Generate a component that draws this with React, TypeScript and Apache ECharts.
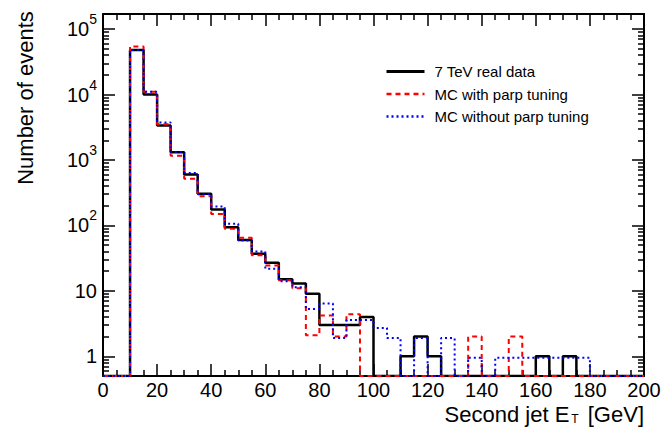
import { useEffect, useRef } from 'react';
import * as echarts from 'echarts';

// Histogram bins: low edges (GeV), width 5 GeV
const BIN_LOW = [
  0, 5, 10, 15, 20, 25, 30, 35, 40, 45,
  50, 55, 60, 65, 70, 75, 80, 85, 90, 95,
  100, 105, 110, 115, 120, 125, 130, 135, 140, 145,
  150, 155, 160, 165, 170, 175, 180, 185, 190, 195,
];
const BIN_WIDTH = 5;

const DATA_7TEV = [
  0, 0, 48000, 10000, 3360, 1316, 600, 304, 175, 94,
  60, 37, 27, 15, 13, 9, 3, 3, 3, 4,
  0, 0, 1, 2, 1, 0, 0, 0, 0, 0,
  0, 0, 1, 0, 1, 0, 0, 0, 0, 0,
];
const MC_PARP = [
  0, 0, 54400, 11000, 3500, 1160, 517, 280, 150, 89,
  65, 35, 24.5, 14.5, 11, 2.1, 4.2, 2, 4.4, 0,
  0, 0, 0, 0, 0, 0, 0, 2, 0, 0,
  2, 0, 0, 0, 0, 0, 0, 0, 0, 0,
];
const MC_NO_PARP = [
  0, 0, 48000, 11000, 3750, 1320, 630, 300, 195, 106,
  59, 40, 21.8, 14, 11.4, 5.3, 6.4, 1.9, 3.6, 3.6,
  2.7, 1.9, 0, 1.9, 0, 1.9, 0, 0.95, 0, 0.95,
  0.95, 0.95, 0.95, 0.95, 0.95, 0.95, 0, 0, 0, 0,
];

const SERIES_NAMES = ['7 TeV real data', 'MC with parp tuning', 'MC without parp tuning'];

const X_MIN = 0;
const X_MAX = 200;
const X_INTERVAL = 20;
const Y_MIN = 0.5;
const Y_MAX = 1.7e5;
const Y_MAJOR_TICKS = [1, 10, 100, 1000, 10000, 100000];

const FONT = "'Liberation Sans', Arial, Helvetica, sans-serif";

function yMinorTicks(): number[] {
  const out: number[] = [];
  for (let e = -1; e <= 5; e++) {
    for (let m = 2; m <= 9; m++) {
      const v = m * Math.pow(10, e);
      if (v > Y_MIN && v < Y_MAX) out.push(v);
    }
  }
  return out;
}

// Empty bins are drawn on the frame floor, as ROOT does
function toSteps(vals: number[]): number[][] {
  const pts = BIN_LOW.map((x, i) => [x, vals[i] > 0 ? vals[i] : Y_MIN]);
  const last = pts[pts.length - 1];
  pts.push([BIN_LOW[BIN_LOW.length - 1] + BIN_WIDTH, last[1]]);
  return pts;
}

function buildOption() {
  const minor = yMinorTicks();
  const axisLineStyle = { color: '#000', width: 2 };
  const tickLine = { color: '#000', width: 1.5 };
  const xBase = {
    type: 'value' as const,
    min: X_MIN,
    max: X_MAX,
    interval: X_INTERVAL,
    splitLine: { show: false },
    axisLine: { show: true, lineStyle: axisLineStyle },
    axisTick: { show: true, inside: true, length: 12, lineStyle: tickLine },
    minorTick: { show: true, splitNumber: 4, length: 6, lineStyle: tickLine },
  };
  const yBase = {
    type: 'log' as const,
    logBase: 10,
    min: Y_MIN,
    max: Y_MAX,
    splitLine: { show: false },
  };
  const hideSymbol = { opacity: 0 };
  return {
    animation: false,
    backgroundColor: '#fff',
    grid: { left: 103, right: 20, top: 14, bottom: 63, containLabel: false },
    legend: {
      orient: 'vertical',
      left: 385,
      top: 64,
      padding: 0,
      itemWidth: 38,
      itemHeight: 14,
      itemGap: 7.5,
      itemStyle: hideSymbol,
      textStyle: { fontSize: 15, fontFamily: FONT, color: '#000', padding: [0, 0, 0, 5] },
      data: [
        { name: SERIES_NAMES[0], itemStyle: hideSymbol, lineStyle: { width: 3 } },
        { name: SERIES_NAMES[1], itemStyle: hideSymbol, lineStyle: { width: 2.5 } },
        { name: SERIES_NAMES[2], itemStyle: hideSymbol, lineStyle: { width: 2.5 } },
      ],
    },
    xAxis: [
      {
        ...xBase,
        position: 'bottom',
        axisLabel: { show: true, fontSize: 20, fontFamily: FONT, color: '#000', margin: 4 },
      },
      {
        ...xBase,
        position: 'top',
        axisLabel: { show: false },
      },
    ],
    yAxis: [
      {
        ...yBase,
        position: 'left',
        axisLine: { show: true, lineStyle: axisLineStyle },
        axisTick: { show: true, inside: true, length: 12, lineStyle: tickLine, customValues: Y_MAJOR_TICKS },
        axisLabel: {
          show: true,
          margin: 6,
          customValues: Y_MAJOR_TICKS,
          formatter: (v: number) => {
            const e = Math.round(Math.log10(v));
            if (e === 0) return '{b|1}';
            if (e === 1) return '{b|10}';
            return `{b|10}{s|${e}}`;
          },
          rich: {
            b: { fontSize: 20, fontFamily: FONT, color: '#000', lineHeight: 34, verticalAlign: 'middle' },
            s: { fontSize: 14, fontFamily: FONT, color: '#000', lineHeight: 14, verticalAlign: 'top' },
          },
        },
      },
      {
        ...yBase,
        position: 'left',
        axisLine: { show: false },
        axisTick: { show: true, inside: true, length: 6, lineStyle: tickLine, customValues: minor },
        axisLabel: { show: false },
      },
      {
        ...yBase,
        position: 'right',
        axisLine: { show: true, lineStyle: axisLineStyle },
        axisTick: { show: true, inside: true, length: 12, lineStyle: tickLine, customValues: Y_MAJOR_TICKS },
        axisLabel: { show: false },
      },
      {
        ...yBase,
        position: 'right',
        axisLine: { show: false },
        axisTick: { show: true, inside: true, length: 6, lineStyle: tickLine, customValues: minor },
        axisLabel: { show: false },
      },
    ],
    series: [
      {
        type: 'line',
        name: SERIES_NAMES[0],
        data: toSteps(DATA_7TEV),
        step: 'end',
        symbol: 'none',
        showSymbol: false,
        xAxisIndex: 0,
        yAxisIndex: 0,
        lineStyle: { color: '#000', width: 2.5, type: 'solid' },
        itemStyle: { color: '#000' },
        z: 2,
      },
      {
        type: 'line',
        name: SERIES_NAMES[1],
        data: toSteps(MC_PARP),
        step: 'end',
        symbol: 'none',
        showSymbol: false,
        xAxisIndex: 0,
        yAxisIndex: 0,
        lineStyle: { color: '#ff0000', width: 2, type: [5, 4] },
        itemStyle: { color: '#ff0000' },
        z: 3,
      },
      {
        type: 'line',
        name: SERIES_NAMES[2],
        data: toSteps(MC_NO_PARP),
        step: 'end',
        symbol: 'none',
        showSymbol: false,
        xAxisIndex: 0,
        yAxisIndex: 0,
        lineStyle: { color: '#0000ff', width: 2, type: [2, 3] },
        itemStyle: { color: '#0000ff' },
        z: 4,
      },
    ],
    graphic: [
      {
        type: 'text',
        x: 644,
        y: 414,
        style: {
          text: '{a|Second jet E}{t|T}{a| [GeV]}',
          align: 'right',
          verticalAlign: 'middle',
          fill: '#000',
          rich: {
            a: { fontSize: 22, fontFamily: FONT, fill: '#000', lineHeight: 22, verticalAlign: 'top' },
            t: { fontSize: 12, fontFamily: FONT, fill: '#000', lineHeight: 12, verticalAlign: 'bottom', padding: [0, 3, 0, 2] },
          },
        },
      },
      {
        type: 'text',
        x: 25,
        y: 98,
        rotation: Math.PI / 2,
        style: {
          text: 'Number of events',
          align: 'center',
          verticalAlign: 'middle',
          fontSize: 22,
          fontFamily: FONT,
          fill: '#000',
        },
      },
    ],
  };
}

export default function App() {
  const ref = useRef<HTMLDivElement>(null);
  useEffect(() => {
    if (!ref.current) return;
    const chart = echarts.init(ref.current, null, { renderer: 'svg' });
    chart.setOption(buildOption() as any);
    return () => chart.dispose();
  }, []);
  return (
    <div
      ref={ref}
      style={{ position: 'absolute', left: 0, top: 0, width: 664, height: 439, background: '#fff' }}
    />
  );
}
